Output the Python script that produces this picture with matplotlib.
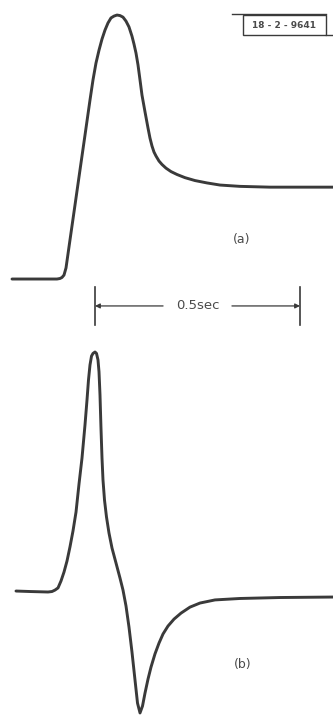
import matplotlib
matplotlib.use("Agg")
import matplotlib.pyplot as plt
from matplotlib.patches import Rectangle

# ---- data (time in ms, amplitude in % of peak) ----
t_a = [-202.4, -92.7, -85.4, -80.5, -75.6, -70.7, -61.0, -48.8, -36.6, -24.4, -12.2,
       -4.9, 2.4, 9.8, 17.1, 24.4, 31.7, 39.0, 46.3, 53.7, 61.0, 68.3, 75.6, 82.9, 90.2,
       95.1, 100.0, 104.9, 109.8, 114.6, 122.0, 129.3, 134.1, 139.0, 143.9, 148.8, 156.1,
       163.4, 173.2, 185.4, 200.0, 219.5, 243.9, 273.2, 304.9, 353.7, 426.8, 580.5]
amp_a = [0, 0, 0.2, 0.6, 1.5, 4.2, 14.8, 28.0, 41.3, 54.5, 67.8, 75.4, 81.8, 86.7, 90.9,
         94.3, 97.0, 98.9, 99.6, 100, 99.8, 99.2, 97.7, 95.5, 92.0, 89.0, 85.6, 81.1,
         75.4, 69.7, 63.3, 57.2, 53.4, 50.4, 48.1, 46.6, 44.7, 43.4, 42.0, 40.7, 39.6,
         38.4, 37.3, 36.4, 35.6, 35.1, 34.8, 34.8]

t_b = [-192.7, -158.5, -114.6, -104.9, -97.6, -90.2, -82.9, -75.6, -68.3, -61.0, -53.7,
       -46.3, -39.0, -31.7, -24.4, -19.5, -15.9, -12.2, -8.5, -4.9, 0, 3.7, 7.3, 9.8,
       12.2, 14.6, 17.1, 19.5, 23.2, 28.0, 34.1, 41.5, 51.2, 61.0, 68.3, 75.6, 82.9,
       90.2, 97.6, 103.7, 109.8, 115.9, 122.0, 129.3, 136.6, 146.3, 156.1, 165.9, 178.0,
       192.7, 209.8, 231.7, 256.1, 292.7, 353.7, 451.2, 580.5]
amp_b = [0.4, 0.2, 0, 0.2, 0.8, 1.7, 4.6, 8.3, 12.9, 18.8, 25.4, 33.3, 45.0, 55.8, 69.6,
         80.0, 88.3, 94.6, 98.3, 99.4, 100, 99.4, 96.7, 91.7, 82.1, 68.3, 55.8, 46.7,
         38.3, 31.3, 24.6, 18.3, 12.1, 5.8, 0.8, -5.8, -14.6, -25.0, -36.7, -46.3, -50.4,
         -47.5, -42.1, -36.3, -31.3, -25.8, -21.3, -17.5, -14.2, -11.3, -8.8, -6.3, -4.6,
         -3.3, -2.7, -2.3, -2.1]

scale_ms = [0, 500]
scale_label = "0.5sec"
fig_id = "18 - 2 - 9641"
panel_labels = ["(a)", "(b)"]

LINE = "#3a3a3a"
TXT = "#4a4a4a"

W, H = 333, 715
fig = plt.figure(figsize=(W / 100, H / 100), dpi=100)
fig.patch.set_facecolor("white")

# panel (a): top 340 px ; panel (b): bottom 375 px
ax_a = fig.add_axes([0, 375 / H, 1, 340 / H])
ax_b = fig.add_axes([0, 0, 1, 375 / H])
for ax in (ax_a, ax_b):
    ax.set_xlim(-231.7, 580.5)
    ax.axis("off")
ax_a.set_ylim(-23.1, 105.7)
ax_b.set_ylim(-51.25, 105.0)

kw = dict(color=LINE, lw=2.1, solid_joinstyle="round", solid_capstyle="round")
ax_a.plot(t_a, amp_a, **kw)
ax_b.plot(t_b, amp_b, **kw)

# panel labels
ax_a.text(358, 14.8, panel_labels[0], ha="center", va="center", fontsize=9, color=TXT)
ax_b.text(361, -30.4, panel_labels[1], ha="center", va="center", fontsize=9, color=TXT)

# 0.5 sec scale bar
y_s = -10.2
for xv in scale_ms:
    ax_a.plot([xv, xv], [-3.0, -17.4], color=LINE, lw=1.2, clip_on=False)
mid = (scale_ms[0] + scale_ms[1]) / 2
ax_a.text(mid, y_s, scale_label, ha="center", va="center", fontsize=9.5, color=TXT)
ap = dict(arrowstyle="-|>", color=LINE, lw=0.9, mutation_scale=7, shrinkA=0, shrinkB=0)
ax_a.annotate("", xy=(scale_ms[0], y_s), xytext=(166, y_s), arrowprops=ap)
ax_a.annotate("", xy=(scale_ms[1], y_s), xytext=(334, y_s), arrowprops=ap)

# figure id box
ax_a.add_patch(Rectangle((361, 92.4), 563 - 361, 100 - 92.4, fill=False,
                         edgecolor=LINE, lw=1.0, clip_on=False))
ax_a.plot([334, 563], [100.4, 100.4], color=LINE, lw=1.0, clip_on=False)
ax_a.plot([563, 580.5], [92.4, 92.4], color=LINE, lw=1.0, clip_on=False)
ax_a.text(462, 96.2, fig_id, ha="center", va="center", fontsize=6.5,
          color=TXT, fontweight="bold")

fig.savefig("out.png", dpi=100, facecolor="white")
